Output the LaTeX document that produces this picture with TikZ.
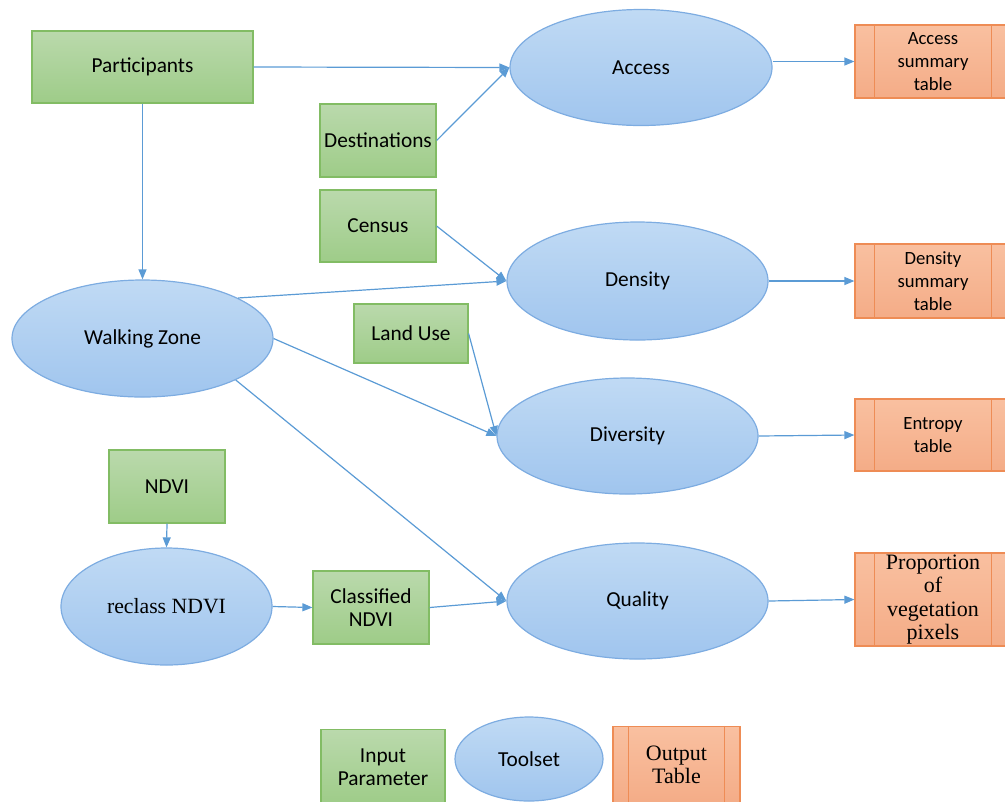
\documentclass[tikz,border=0pt]{standalone}
\usepackage{fontspec}
\setmainfont{Carlito}
\newfontfamily\tnr{Liberation Serif}
\usetikzlibrary{shapes.geometric,arrows.meta}
\definecolor{gtop}{RGB}{186,217,172}
\definecolor{gbot}{RGB}{158,204,136}
\definecolor{gbd}{RGB}{130,188,100}
\definecolor{btop}{RGB}{192,218,244}
\definecolor{bbot}{RGB}{160,197,238}
\definecolor{bbd}{RGB}{125,172,225}
\definecolor{otop}{RGB}{249,192,160}
\definecolor{obot}{RGB}{244,172,135}
\definecolor{obd}{RGB}{238,140,85}
\definecolor{arr}{RGB}{91,155,213}
\newcommand\pxl[1]{#1*0.75pt}
\tikzset{
 inbox/.style={rectangle, draw=gbd, line width=0.9pt, top color=gtop, bottom color=gbot, align=center,
   font=\fontsize{16}{17.5}\selectfont, inner sep=0pt},
 tool/.style={ellipse, draw=bbd, line width=0.9pt, top color=btop, bottom color=bbot, align=center,
   font=\fontsize{16}{17.5}\selectfont, inner sep=0pt},
 outbox/.style={rectangle, draw=obd, line width=0.9pt, top color=otop, bottom color=obot, align=center,
   font=\fontsize{14}{17}\selectfont, inner sep=0pt},
 serifout/.style={font=\tnr\fontsize{16.5}{17.5}\selectfont},
 conn/.style={draw=arr, line width=0.9pt, -{Triangle[length=7.5pt,width=6pt]}}
}
\begin{document}
\begin{tikzpicture}[x=0.75pt,y=-0.75pt]
\useasboundingbox (0,0) rectangle (1005,801);
\clip (0,0) rectangle (1005,801);
% input parameters
\node[inbox, minimum width=\pxl{221}, minimum height=\pxl{72}] (part) at (142.5,67) {Participants};
\node[inbox, minimum width=\pxl{116}, minimum height=\pxl{73}] (dest) at (378,140.5) {Destinations};
\node[inbox, minimum width=\pxl{116}, minimum height=\pxl{72}] (cens) at (378,226) {Census};
\node[inbox, minimum width=\pxl{114}, minimum height=\pxl{59}] (land) at (411,333.5) {Land Use};
\node[inbox, minimum width=\pxl{116}, minimum height=\pxl{73}] (ndvi) at (167,486.5) {NDVI};
\node[inbox, minimum width=\pxl{116}, minimum height=\pxl{73}] (cndvi) at (371,607.5) {Classified\\NDVI};
\node[inbox, minimum width=\pxl{124}, minimum height=\pxl{75}] (legin) at (383,767) {Input\\Parameter};
% toolsets
\node[tool, minimum width=\pxl{262}, minimum height=\pxl{116}] (acc) at (641,67.5) {Access};
\node[tool, minimum width=\pxl{261}, minimum height=\pxl{118}] (dens) at (637.5,281) {Density};
\node[tool, minimum width=\pxl{261}, minimum height=\pxl{117}] (walk) at (142.5,338.5) {Walking Zone};
\node[tool, minimum width=\pxl{261}, minimum height=\pxl{116}] (div) at (627.5,436) {Diversity};
\node[tool, minimum width=\pxl{211}, minimum height=\pxl{117}, font=\tnr\fontsize{16.3}{18}\selectfont] (recl) at (166.5,606.5) {reclass NDVI};
\node[tool, minimum width=\pxl{261}, minimum height=\pxl{116}] (qual) at (637.5,601) {Quality};
\node[tool, minimum width=\pxl{148}, minimum height=\pxl{84}] (legtool) at (529,759) {Toolset};
% output tables
\node[outbox, minimum width=\pxl{156}, minimum height=\pxl{73}] (t1) at (933,61.5) {Access\\summary\\table};
\node[outbox, minimum width=\pxl{156}, minimum height=\pxl{74}] (t2) at (933,281) {Density\\summary\\table};
\node[outbox, minimum width=\pxl{156}, minimum height=\pxl{72}] (t3) at (933,435) {Entropy\\table};
\node[outbox, serifout, minimum width=\pxl{156}, minimum height=\pxl{93}] (t4) at (933,599.5) {Proportion\\of\\vegetation\\pixels};
\node[outbox, serifout, minimum width=\pxl{127}, minimum height=\pxl{77}] (legout) at (676.5,765) {Output\\Table};
\foreach \t/\d in {t1/20,t2/20,t3/20,t4/20,legout/16}{
  \draw[obd, line width=0.9pt] ([xshift=\pxl{\d}]\t.north west) -- ([xshift=\pxl{\d}]\t.south west);
  \draw[obd, line width=0.9pt] ([xshift=-\pxl{\d}]\t.north east) -- ([xshift=-\pxl{\d}]\t.south east);
}
% connectors
\draw[conn] (part.east) -- (acc.west);
\draw[conn] (part.south) -- (walk.north);
\draw[conn] (dest.east) -- (acc.west);
\draw[conn] (t1.west -| acc.east) -- (t1.west);
\draw[conn] (cens.east) -- (dens.west);
\draw[conn] (walk.23) -- (dens.west);
\draw[conn] (dens.east) -- (t2.west);
\draw[conn] (land.east) -- (div.west);
\draw[conn] (walk.east) -- (div.west);
\draw[conn] (div.east) -- (t3.west);
\draw[conn] (walk.-24) -- (qual.west);
\draw[conn] (ndvi.south) -- (recl.north);
\draw[conn] (recl.east) -- (cndvi.west);
\draw[conn] (cndvi.east) -- (qual.west);
\draw[conn] (qual.east) -- (t4.west);
\end{tikzpicture}
\end{document}
